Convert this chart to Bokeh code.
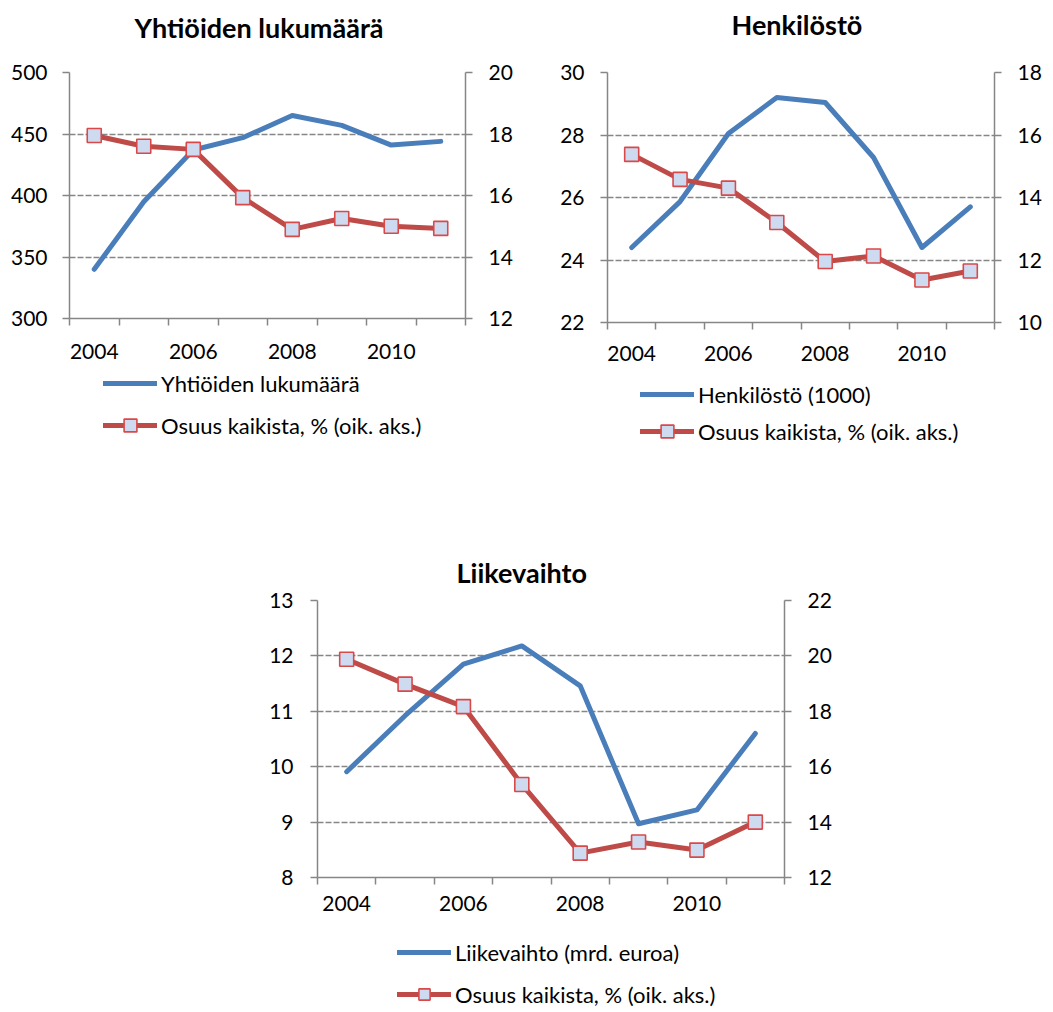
from bokeh.plotting import figure
from bokeh.models import Range1d, LinearAxis, FixedTicker, Legend, LegendItem, Spacer, Title
from bokeh.layouts import column, row
from bokeh.embed import file_html
from bokeh.resources import INLINE

# ---- data ----
years = [2004, 2005, 2006, 2007, 2008, 2009, 2010, 2011]
x_labels = ["2004", "2006", "2008", "2010"]

companies = [340, 395, 437, 447, 465, 457, 441, 444]
companies_share = [17.95, 17.6, 17.5, 15.93, 14.9, 15.25, 15.0, 14.93]

staff = [24.4, 25.87, 28.05, 29.2, 29.04, 27.28, 24.4, 25.7]
staff_share = [15.38, 14.58, 14.3, 13.2, 11.95, 12.13, 11.36, 11.65]

turnover = [9.91, 10.92, 11.85, 12.18, 11.46, 8.97, 9.22, 10.6]
turnover_share = [19.88, 18.98, 18.17, 15.36, 12.88, 13.28, 12.99, 14.0]

titles = ["Yhtiöiden lukumäärä", "Henkilöstö", "Liikevaihto"]
blue_labels = ["Yhtiöiden lukumäärä", "Henkilöstö (1000)", "Liikevaihto (mrd. euroa)"]
red_label = "Osuus kaikista, % (oik. aks.)"

left_ticks_1 = [300, 350, 400, 450, 500]
right_ticks_1 = [12, 14, 16, 18, 20]
left_ticks_2 = [22, 24, 26, 28, 30]
right_ticks_2 = [10, 12, 14, 16, 18]
left_ticks_3 = [8, 9, 10, 11, 12, 13]
right_ticks_3 = [12, 14, 16, 18, 20, 22]

BLUE = "#4a7ebb"
RED = "#be4b48"
GRAY = "#868686"
FONT = "Lato"
LINE_STYLE = dict(line_width=5, line_join="round", line_cap="round")
MARK_STYLE = dict(marker="square", size=14, fill_color="#cddaf0",
                  line_color="#d9494a", line_width=1.6)


def style_axis(ax, standoff):
    ax.major_tick_out = 7
    ax.major_tick_in = 0
    ax.major_tick_line_color = GRAY
    ax.major_tick_line_width = 1.5
    ax.axis_line_color = GRAY
    ax.axis_line_width = 1.5
    ax.major_label_standoff = standoff
    ax.major_label_text_font = FONT
    ax.major_label_text_font_size = "21px"
    ax.major_label_text_color = "black"


def make_chart(title, blue_vals, red_vals, lticks, rticks, width, height, mb,
               gap, title_left, xstand, lstand, rstand):
    p = figure(width=width, height=height, title=None,
               x_range=Range1d(years[0] - 0.5, years[-1] + 0.5),
               y_range=Range1d(lticks[0], lticks[-1]),
               output_backend="svg", toolbar_location=None,
               min_border_left=mb[0], min_border_right=mb[1],
               min_border_top=mb[2], min_border_bottom=mb[3])
    # thin empty spacer between title and plot area, then the title itself
    p.add_layout(Title(text=" ", text_font_size="1px", standoff=gap), "above")
    p.add_layout(Title(text=title, align="left", offset=title_left,
                       text_font=FONT, text_font_size="27px",
                       text_font_style="bold", text_color="black",
                       standoff=0), "above")
    p.outline_line_color = None
    p.extra_y_ranges = {"share": Range1d(rticks[0], rticks[-1])}

    # x axis: labels on every other year, tick marks between categories
    xa = p.xaxis[0]
    style_axis(xa, xstand)
    xa.ticker = FixedTicker(ticks=[int(s) for s in x_labels],
                            minor_ticks=[y - 0.5 for y in years] + [years[-1] + 0.5])
    xa.major_label_overrides = {int(s): s for s in x_labels}
    xa.major_tick_out = 0
    xa.minor_tick_out = 7
    xa.minor_tick_in = 0
    xa.minor_tick_line_color = GRAY
    xa.minor_tick_line_width = 1.5

    ya = p.yaxis[0]
    style_axis(ya, lstand)
    ya.ticker = FixedTicker(ticks=lticks)

    ra = LinearAxis(y_range_name="share", ticker=FixedTicker(ticks=rticks))
    style_axis(ra, rstand)
    p.add_layout(ra, "right")

    p.xgrid.visible = False
    p.ygrid.ticker = FixedTicker(ticks=lticks[1:])
    p.ygrid.grid_line_color = GRAY
    p.ygrid.grid_line_dash = "6 2"
    p.ygrid.grid_line_width = 1.3

    p.line(years, blue_vals, line_color=BLUE, **LINE_STYLE)
    p.line(years, red_vals, line_color=RED, y_range_name="share", **LINE_STYLE)
    p.scatter(years, red_vals, y_range_name="share", **MARK_STYLE)
    return p


def make_legend(blue_label, width, height, loc, glyph_h, spacing):
    q = figure(width=width, height=height, x_range=Range1d(0, 1), y_range=Range1d(0, 1),
               x_axis_type=None, y_axis_type=None, output_backend="svg",
               toolbar_location=None, min_border=0)
    q.outline_line_color = None
    q.xgrid.visible = False
    q.ygrid.visible = False
    # sample glyphs kept outside the visible range; only their legend swatches show
    bl = q.line([5, 6], [5, 6], line_color=BLUE, **LINE_STYLE)
    rl = q.line([5, 6], [5, 6], line_color=RED, **LINE_STYLE)
    rs = q.scatter([5, 6], [5, 6], **MARK_STYLE)
    legend = Legend(items=[LegendItem(label=blue_label, renderers=[bl]),
                           LegendItem(label=red_label, renderers=[rl, rs])],
                    location=loc, orientation="vertical",
                    glyph_width=54, glyph_height=glyph_h, label_standoff=4,
                    label_text_font=FONT, label_text_font_size="22px",
                    label_text_color="black",
                    spacing=spacing, padding=0, margin=0,
                    border_line_color=None, background_fill_alpha=0)
    q.add_layout(legend, "center")
    return q


p1 = make_chart(titles[0], companies, companies_share, left_ticks_1, right_ticks_1,
                520, 365, (69, 55, 72, 47), 26, 65, 18, 15, 16)
l1 = make_legend(blue_labels[0], 520, 90, (34, 14), 32, 10)

p2 = make_chart(titles[1], staff, staff_share, left_ticks_2, right_ticks_2,
                532, 369, (87, 58, 72, 47), 29, 124, 16, 16, 16)
l2 = make_legend(blue_labels[1], 532, 90, (33, 12), 32, 5)

p3 = make_chart(titles[2], turnover, turnover_share, left_ticks_3, right_ticks_3,
                594, 462, (67, 60, 141, 44), 9, 139, 11, 17, 16)
l3 = make_legend(blue_labels[2], 594, 88, (80, 1), 28, 14)

layout = column(row(column(p1, l1), column(p2, l2)),
                row(Spacer(width=250, height=10), column(p3, l3)))

open("out.html", "w").write(file_html(layout, INLINE))
